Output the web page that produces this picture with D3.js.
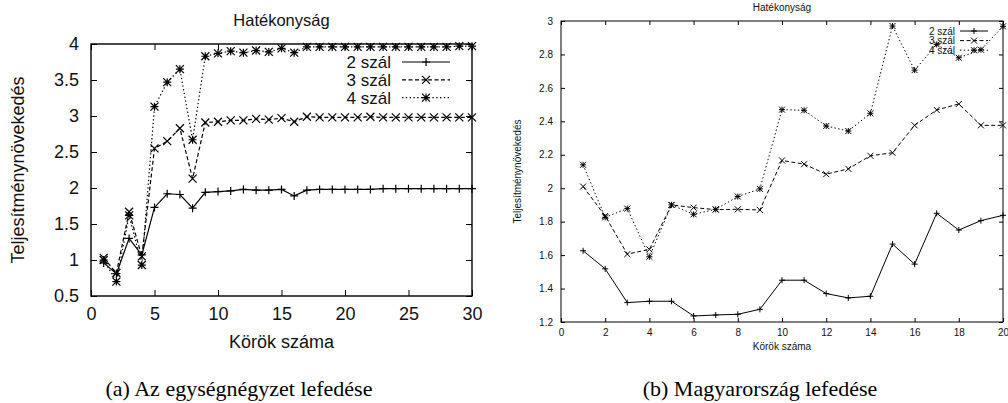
<!DOCTYPE html>
<html>
<head>
<meta charset="utf-8">
<script src="https://cdn.jsdelivr.net/npm/d3@7"></script>
<style>
  html, body { margin: 0; padding: 0; background: #fff; }
  svg { display: block; }
</style>
</head>
<body>
<div id="chart"></div>
<script>
"use strict";

// series labels
const seriesNames = ["2 szál", "3 szál", "4 szál"];

// (a) unit square, rounds 1..30
const roundsA = d3.range(1, 31);
const squareTwo = [0.96, 0.81, 1.30, 1.07, 1.73, 1.92, 1.91, 1.72, 1.94, 1.95, 1.96, 1.98, 1.97, 1.97, 1.98,
  1.89, 1.97, 1.98, 1.98, 1.98, 1.98, 1.98, 1.99, 1.99, 1.99, 1.99, 1.99, 1.99, 1.99, 1.99];
const squareThree = [1.03, 0.82, 1.67, 1.05, 2.55, 2.65, 2.83, 2.13, 2.91, 2.92, 2.94, 2.94, 2.96, 2.95, 2.97,
  2.92, 2.99, 2.98, 2.98, 2.98, 2.98, 2.99, 2.98, 2.98, 2.98, 2.98, 2.98, 2.98, 2.98, 2.98];
const squareFour = [1.00, 0.70, 1.62, 0.93, 3.13, 3.47, 3.65, 2.67, 3.83, 3.87, 3.90, 3.88, 3.91, 3.89, 3.94,
  3.88, 3.96, 3.96, 3.96, 3.96, 3.96, 3.96, 3.96, 3.96, 3.96, 3.96, 3.96, 3.96, 3.97, 3.97];

// (b) Hungary, rounds 1..20
const roundsB = d3.range(1, 21);
const hunTwo = [1.626, 1.518, 1.316, 1.324, 1.324, 1.236, 1.242, 1.246, 1.276, 1.45,
  1.45, 1.37, 1.344, 1.354, 1.666, 1.546, 1.85, 1.75, 1.806, 1.838];
const hunThree = [2.01, 1.834, 1.606, 1.634, 1.9, 1.884, 1.872, 1.874, 1.87, 2.166,
  2.144, 2.084, 2.116, 2.194, 2.212, 2.376, 2.468, 2.504, 2.376, 2.376];
const hunFour = [2.14, 1.826, 1.878, 1.59, 1.9, 1.844, 1.874, 1.95, 1.996, 2.47,
  2.466, 2.372, 2.342, 2.448, 2.97, 2.706, 2.86, 2.78, 2.828, 2.968];

// tick values
const ticksAx = [0, 5, 10, 15, 20, 25, 30];
const ticksAy = [0.5, 1, 1.5, 2, 2.5, 3, 3.5, 4];
const ticksBx = [0, 2, 4, 6, 8, 10, 12, 14, 16, 18, 20];
const ticksBy = [1.2, 1.4, 1.6, 1.8, 2, 2.2, 2.4, 2.6, 2.8, 3];

const titleText = "Hatékonyság";
const xLabel = "Körök száma";
const yLabel = "Teljesítménynövekedés";
const captions = ["(a) Az egységnégyzet lefedése", "(b) Magyarország lefedése"];

const W = 1008, H = 403;
const svg = d3.select("#chart").append("svg")
  .attr("width", W).attr("height", H)
  .attr("font-family", "'Liberation Sans', Arial, sans-serif");

// gnuplot-ish point shapes: +, x, *
const markerPath = (kind, s) => {
  const plus = `M${-s},0L${s},0M0,${-s}L0,${s}`;
  const cross = `M${-s},${-s}L${s},${s}M${-s},${s}L${s},${-s}`;
  if (kind === 0) return plus;
  if (kind === 1) return cross;
  return plus + cross;
};
const dashes = [null, "4,2.5", "1.4,2.4"];

const drawPanel = (p) => {
  const g = svg.append("g");
  const x = d3.scaleLinear().domain(p.xDomain).range([p.left, p.right]);
  const y = d3.scaleLinear().domain(p.yDomain).range([p.bottom, p.top]);

  // mirrored inward ticks on all four sides
  const tl = p.tickLen;
  g.append("g").attr("transform", `translate(0,${p.bottom})`)
    .call(d3.axisBottom(x).tickValues(p.xTicks).tickSizeInner(-tl).tickSizeOuter(0).tickPadding(p.pad + tl).tickFormat(d3.format("")));
  g.append("g").attr("transform", `translate(0,${p.top})`)
    .call(d3.axisTop(x).tickValues(p.xTicks).tickSizeInner(-tl).tickSizeOuter(0).tickFormat(""));
  g.append("g").attr("transform", `translate(${p.left},0)`)
    .call(d3.axisLeft(y).tickValues(p.yTicks).tickSizeInner(-tl).tickSizeOuter(0).tickPadding(p.padY + tl).tickFormat(d3.format("")));
  g.append("g").attr("transform", `translate(${p.right},0)`)
    .call(d3.axisRight(y).tickValues(p.yTicks).tickSizeInner(-tl).tickSizeOuter(0).tickFormat(""));

  g.selectAll(".domain").remove();
  g.selectAll(".tick line").attr("stroke", "#000").attr("stroke-width", 1);
  g.selectAll(".tick text").attr("font-size", p.tickFont).attr("fill", "#111")
    .attr("font-family", "'Liberation Sans', Arial, sans-serif");

  g.append("rect")
    .attr("x", p.left).attr("y", p.top)
    .attr("width", p.right - p.left).attr("height", p.bottom - p.top)
    .attr("fill", "none").attr("stroke", "#000").attr("stroke-width", p.frameW);

  const line = d3.line().x(d => x(d[0])).y(d => y(d[1]));

  p.series.forEach((vals, i) => {
    const pts = p.xs.map((r, j) => [r, vals[j]]);
    g.append("path")
      .datum(pts)
      .attr("d", line)
      .attr("fill", "none")
      .attr("stroke", "#000")
      .attr("stroke-width", p.lineW)
      .attr("stroke-dasharray", dashes[i]);
    g.selectAll(null)
      .data(pts)
      .enter()
      .append("path")
      .attr("transform", d => `translate(${x(d[0])},${y(d[1])})`)
      .attr("d", markerPath(i, p.mk))
      .attr("fill", "none")
      .attr("stroke", "#000")
      .attr("stroke-width", p.lineW);
  });

  // legend, top right inside the frame
  seriesNames.forEach((name, i) => {
    const ly = p.legY + i * p.legStep;
    g.append("text")
      .attr("x", p.legTextX).attr("y", ly)
      .attr("dy", "0.35em")
      .attr("text-anchor", "end")
      .attr("font-size", p.legFont)
      .attr("fill", "#111")
      .text(name);
    g.append("line")
      .attr("x1", p.legX1).attr("x2", p.legX2)
      .attr("y1", ly).attr("y2", ly)
      .attr("stroke", "#000")
      .attr("stroke-width", p.lineW)
      .attr("stroke-dasharray", dashes[i]);
    g.append("path")
      .attr("transform", `translate(${(p.legX1 + p.legX2) / 2},${ly})`)
      .attr("d", markerPath(i, p.mk))
      .attr("fill", "none")
      .attr("stroke", "#000")
      .attr("stroke-width", p.lineW);
  });

  const cx = (p.left + p.right) / 2;
  g.append("text")
    .attr("x", cx).attr("y", p.titleY)
    .attr("dy", "0.35em")
    .attr("text-anchor", "middle")
    .attr("font-size", p.titleFont)
    .attr("fill", "#111")
    .text(titleText);
  g.append("text")
    .attr("x", cx).attr("y", p.xLabelY)
    .attr("dy", "0.35em")
    .attr("text-anchor", "middle")
    .attr("font-size", p.labelFont)
    .attr("fill", "#111")
    .text(xLabel);
  g.append("text")
    .attr("transform", `translate(${p.yLabelX},${(p.top + p.bottom) / 2}) rotate(-90)`)
    .attr("dy", "0.35em")
    .attr("text-anchor", "middle")
    .attr("font-size", p.labelFont)
    .attr("fill", "#111")
    .text(yLabel);
};

drawPanel({
  left: 91, right: 472, top: 44, bottom: 296,
  xDomain: [0, 30], yDomain: [0.5, 4],
  xTicks: ticksAx, yTicks: ticksAy,
  xs: roundsA, series: [squareTwo, squareThree, squareFour],
  tickLen: 6, pad: 5, padY: 6, tickFont: 18,
  frameW: 1.4, lineW: 1.2, mk: 4,
  legY: 62, legStep: 17.8, legTextX: 391, legX1: 402, legX2: 450, legFont: 17,
  titleY: 20, titleFont: 16.5, xLabelY: 342, yLabelX: 18, labelFont: 18
});

drawPanel({
  left: 561, right: 1003, top: 21, bottom: 322,
  xDomain: [0, 20], yDomain: [1.2, 3],
  xTicks: ticksBx, yTicks: ticksBy,
  xs: roundsB, series: [hunTwo, hunThree, hunFour],
  tickLen: 4, pad: 3, padY: 4, tickFont: 10,
  frameW: 1, lineW: 1, mk: 3,
  legY: 31, legStep: 9.6, legTextX: 955, legX1: 960, legX2: 988, legFont: 10,
  titleY: 7, titleFont: 10, xLabelY: 346, yLabelX: 517, labelFont: 10
});

// sub-figure captions
[239, 760].forEach((cx, i) => {
  svg.append("text")
    .attr("x", cx).attr("y", 388)
    .attr("dy", "0.35em")
    .attr("text-anchor", "middle")
    .attr("font-family", "'Liberation Serif', 'Times New Roman', serif")
    .attr("font-size", 22)
    .attr("fill", "#000")
    .text(captions[i]);
});
</script>
</body>
</html>
